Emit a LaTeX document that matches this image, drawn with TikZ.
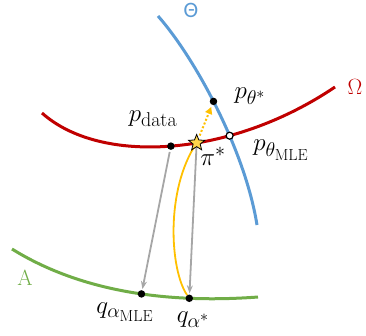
\RequirePackage{fix-cm}
\documentclass[tikz,border=0pt]{standalone}
\usepackage{fontspec}
\newfontfamily\setfont{Carlito}
\usetikzlibrary{shapes.geometric,arrows.meta,intersections}
\DeclareMathSizes{25}{25}{20}{16}
\definecolor{thetablue}{HTML}{5B9BD5}
\definecolor{omegared}{HTML}{C00000}
\definecolor{alphagreen}{HTML}{70AD47}
\definecolor{pathyellow}{HTML}{FFC000}
\definecolor{stargold}{HTML}{FFD54A}
\definecolor{arrowgray}{HTML}{A6A6A6}
\begin{document}
\begin{tikzpicture}[x=1pt,y=-1pt,every node/.style={font=\fontsize{25}{29}\selectfont},
  manifold/.style={line width=3pt},
  setlabel/.style={font=\fontsize{22}{26}\selectfont},
  dot/.style={circle,fill=black,inner sep=0pt,minimum size=7.5pt},
  opendot/.style={circle,draw=black,fill=white,line width=1.2pt,inner sep=0pt,minimum size=7pt},
  beststar/.style={star,star points=5,star point ratio=2.3,draw=black,fill=stargold,line width=0.8pt,inner sep=0pt,minimum size=17pt},
  proj/.style={arrowgray,line width=1.8pt,-{Stealth[length=8pt,width=6pt]},shorten <=2pt,shorten >=1pt}]
\useasboundingbox (0,0) rectangle (366,335);

% the three model families
\draw[manifold,thetablue,name path=thetacurve] (158,16) .. controls (195,58) and (245,150) .. (257,225)
  coordinate[pos=0.47] (pthetastarpos);
\draw[manifold,omegared,name path=omegacurve] (42,113) .. controls (100,165) and (230,158) .. (335,87)
  coordinate[pos=0.5] (pdatapos) coordinate[pos=0.58] (pistarpos);
\draw[manifold,alphagreen] (12,249) .. controls (70,285) and (150,305) .. (258,297)
  coordinate[pos=0.6] (qalphamlepos) coordinate[pos=0.775] (qalphastarpos);
\path[name intersections={of=thetacurve and omegacurve,by=crosspos}];

\node[setlabel,text=thetablue] (thetalbl) at (191,10) {\setfont Θ};
\node[setlabel,text=omegared] (omegalbl) at (355,87) {$\Omega$};
\node[setlabel,text=alphagreen] (alphalbl) at (25,278) {$\mathrm{A}$};

% points
\node[dot] (pdata) at (pdatapos) {};
\node[dot] (pthetastar) at (pthetastarpos) {};
\node[opendot] (pthetamle) at (crosspos) {};
\node[dot] (qalphamle) at (qalphamlepos) {};
\node[dot] (qalphastar) at (qalphastarpos) {};

% connectors
\draw[proj] (pdata) -- (qalphamle);
\draw[proj] (pistarpos) -- (qalphastar);
\draw[pathyellow,line width=1.8pt] (pistarpos) .. controls (165,190) and (170,270) .. (qalphastar);
\draw[pathyellow,line width=2pt,dotted,-{Triangle[length=7pt,width=7pt]},shorten <=8pt,shorten >=2pt] (pistarpos) -- (pthetastar);
\node[beststar] (pistar) at (pistarpos) {};

% labels
\node (pdatalbl) at (153,119) {$p_{\mathrm{data}}$};
\node (pistarlbl) at (213,156) {$\pi^*$};
\node (pthetastarlbl) at (250,96) {$p_{\theta^*}$};
\node (pthetamlelbl) at (281,150) {$p_{\theta_{\mathrm{MLE}}}$};
\node (qalphamlelbl) at (125,312) {$q_{\alpha_{\mathrm{MLE}}}$};
\node (qalphastarlbl) at (193,320) {$q_{\alpha^*}$};
\end{tikzpicture}
\end{document}
